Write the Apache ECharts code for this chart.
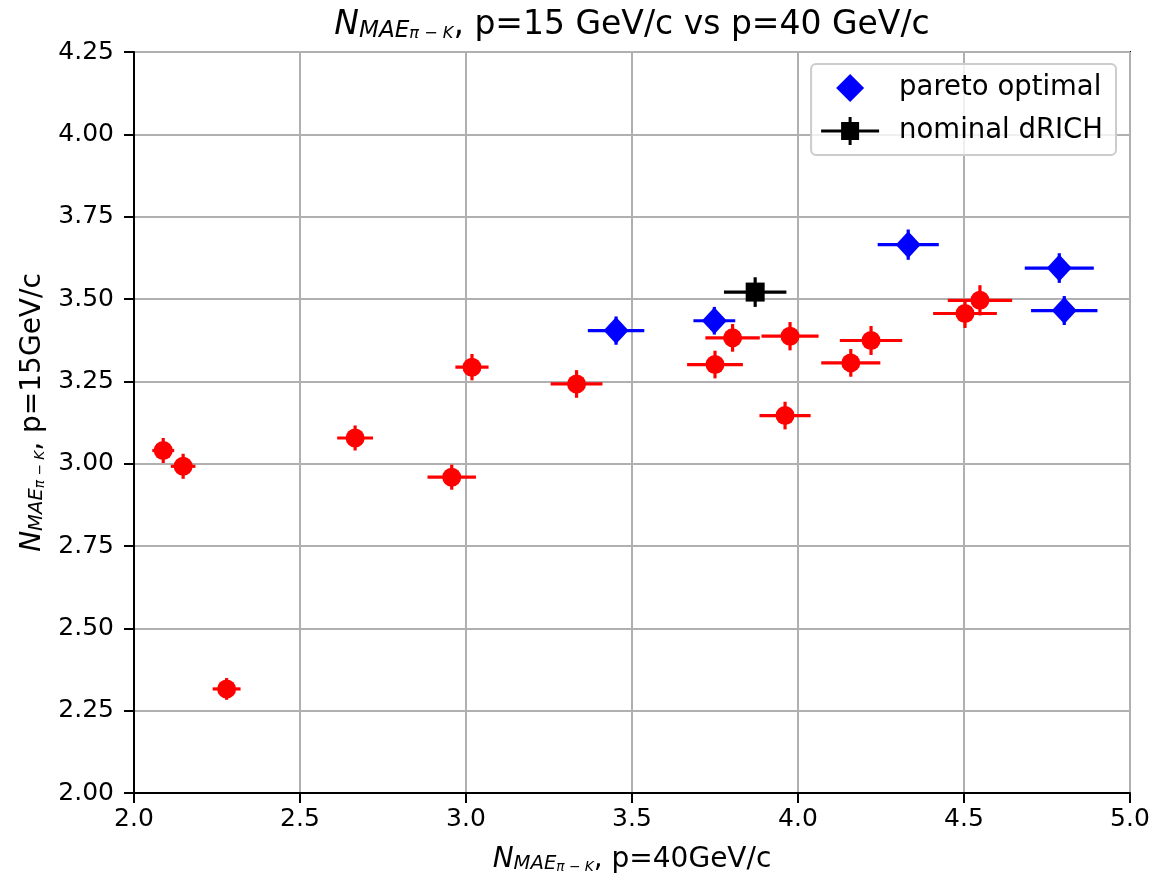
<!DOCTYPE html>
<html>
<head>
<meta charset="utf-8">
<script src="https://cdn.jsdelivr.net/npm/echarts@6/dist/echarts.min.js"></script>
<style>
html,body{margin:0;padding:0;background:#fff;}
#chart{width:1156px;height:882px;}
</style>
</head>
<body>
<div id="chart"></div>
<script>
// Data: [x (p=40), y (p=15), xerr, yerr]
const otherPoints = [
  [2.088, 3.040, 0.033, 0.038],
  [2.148, 2.992, 0.037, 0.038],
  [2.279, 2.316, 0.042, 0.033],
  [2.666, 3.078, 0.054, 0.038],
  [2.957, 2.959, 0.073, 0.038],
  [3.018, 3.293, 0.050, 0.040],
  [3.333, 3.242, 0.078, 0.042],
  [3.750, 3.301, 0.084, 0.042],
  [3.803, 3.382, 0.082, 0.042],
  [3.976, 3.387, 0.086, 0.043],
  [3.961, 3.146, 0.077, 0.042],
  [4.159, 3.306, 0.089, 0.042],
  [4.220, 3.374, 0.094, 0.044],
  [4.503, 3.456, 0.096, 0.044],
  [4.548, 3.496, 0.097, 0.046]
];
const paretoPoints = [
  [3.452, 3.404, 0.085, 0.043],
  [3.748, 3.434, 0.063, 0.042],
  [4.332, 3.665, 0.092, 0.046],
  [4.787, 3.594, 0.104, 0.045],
  [4.802, 3.465, 0.100, 0.044]
];
const nominalPoints = [
  [3.871, 3.521, 0.094, 0.045]
];
const seriesNames = ['pareto optimal', 'nominal dRICH'];
const titleText = ', p=15 GeV/c vs p=40 GeV/c';
const xName = ', p=40GeV/c';
const yName = ', p=15GeV/c';

const FONT = 'DejaVu Sans';

function errRender(color) {
  return function (params, api) {
    const x = api.value(0), y = api.value(1), xe = api.value(2), ye = api.value(3);
    const a = api.coord([x - xe, y]), b = api.coord([x + xe, y]);
    const c = api.coord([x, y - ye]), d = api.coord([x, y + ye]);
    const style = { stroke: color, lineWidth: 3.2 };
    return {
      type: 'group',
      children: [
        { type: 'line', shape: { x1: a[0], y1: a[1], x2: b[0], y2: b[1] }, style: style },
        { type: 'line', shape: { x1: c[0], y1: c[1], x2: d[0], y2: d[1] }, style: style }
      ]
    };
  };
}

function mathRich(size, lh, subLh, subsubLh) {
  return {
    n: { fontFamily: FONT, fontStyle: 'italic', fontWeight: 'normal', fontSize: size, lineHeight: lh, color: '#000', verticalAlign: 'bottom' },
    s: { fontFamily: FONT, fontStyle: 'italic', fontWeight: 'normal', fontSize: size * 0.7, lineHeight: subLh, color: '#000', verticalAlign: 'bottom' },
    ss: { fontFamily: FONT, fontStyle: 'italic', fontWeight: 'normal', fontSize: size * 0.49, lineHeight: subsubLh, color: '#000', verticalAlign: 'bottom' },
    t: { fontFamily: FONT, fontWeight: 'normal', fontSize: size, lineHeight: lh, color: '#000', verticalAlign: 'bottom' }
  };
}
const mathPrefix = '{n|N}{s|MAE}{ss|π − K}';

const diamondIcon = 'path://M14,0 L28,14 L14,28 L0,14 Z';
const errIcon = 'path://M0,12.5 L58,12.5 L58,15.5 L0,15.5 Z M20,5 L38,5 L38,23 L20,23 Z M27.5,0 L30.5,0 L30.5,28 L27.5,28 Z';

const chart = echarts.init(document.getElementById('chart'), null, { renderer: 'canvas' });
chart.setOption({
  animation: false,
  backgroundColor: '#fff',
  title: {
    text: mathPrefix + '{t|' + titleText + '}',
    left: 632,
    textAlign: 'center',
    top: 2,
    padding: 0,
    textStyle: { fontWeight: 'normal', rich: mathRich(33, 40, 21, 5) }
  },
  legend: {
    orient: 'vertical',
    right: 40,
    top: 64,
    padding: [10, 13, 10, 10],
    itemWidth: 58,
    itemHeight: 28,
    itemGap: 15,
    symbolKeepAspect: true,
    backgroundColor: 'rgba(255,255,255,0.8)',
    borderColor: '#cccccc',
    borderWidth: 2,
    borderRadius: 5,
    textStyle: { fontFamily: FONT, fontSize: 27.5, color: '#000', padding: [0, 0, 0, 15], lineHeight: 28 },
    data: [
      { name: seriesNames[0], icon: diamondIcon, itemStyle: { color: '#0000ff' } },
      { name: seriesNames[1], icon: errIcon, itemStyle: { color: '#000000' } }
    ],
    selectedMode: false
  },
  grid: {
    left: 134, right: 26, top: 52, bottom: 89,
    show: true, borderColor: '#000', borderWidth: 2, backgroundColor: 'transparent'
  },
  xAxis: {
    type: 'value', min: 2, max: 5, interval: 0.5,
    name: mathPrefix + '{t|' + xName + '}',
    nameLocation: 'middle', nameGap: 47,
    nameTextStyle: { rich: mathRich(28, 34, 18, 4) },
    axisLine: { show: true, lineStyle: { color: '#000', width: 2 } },
    axisTick: { show: true, length: 10, lineStyle: { color: '#000', width: 2 } },
    axisLabel: { fontFamily: FONT, fontSize: 25, color: '#000', margin: 14, formatter: v => v.toFixed(1) },
    splitLine: { show: true, lineStyle: { color: '#b0b0b0', width: 2 } }
  },
  yAxis: {
    type: 'value', min: 2, max: 4.25, interval: 0.25,
    name: mathPrefix + '{t|' + yName + '}',
    nameLocation: 'middle', nameGap: 87, nameRotate: 90,
    nameTextStyle: { rich: mathRich(28, 34, 18, 4), padding: [0, 0, 0, 20] },
    axisLine: { show: true, lineStyle: { color: '#000', width: 2 } },
    axisTick: { show: true, length: 10, lineStyle: { color: '#000', width: 2 } },
    axisLabel: { fontFamily: FONT, fontSize: 25, color: '#000', margin: 20, formatter: v => v.toFixed(2) },
    splitLine: { show: true, lineStyle: { color: '#b0b0b0', width: 2 } }
  },
  series: [
    { type: 'custom', name: 'other', data: otherPoints, renderItem: errRender('#ff0000'), encode: { x: 0, y: 1 }, z: 2 },
    { type: 'scatter', name: 'other', data: otherPoints, symbol: 'circle', symbolSize: 19, itemStyle: { color: '#ff0000', opacity: 1 }, encode: { x: 0, y: 1 }, z: 2 },
    { type: 'custom', name: seriesNames[0], data: paretoPoints, renderItem: errRender('#0000ff'), encode: { x: 0, y: 1 }, z: 2 },
    { type: 'scatter', name: seriesNames[0], data: paretoPoints, symbol: 'diamond', symbolSize: [25, 27], itemStyle: { color: '#0000ff', opacity: 1 }, encode: { x: 0, y: 1 }, z: 2 },
    { type: 'custom', name: seriesNames[1], data: nominalPoints, renderItem: errRender('#000000'), encode: { x: 0, y: 1 }, z: 2 },
    { type: 'scatter', name: seriesNames[1], data: nominalPoints, symbol: 'rect', symbolSize: 19, itemStyle: { color: '#000000', opacity: 1 }, encode: { x: 0, y: 1 }, z: 2 }
  ]
});
</script>
</body>
</html>
